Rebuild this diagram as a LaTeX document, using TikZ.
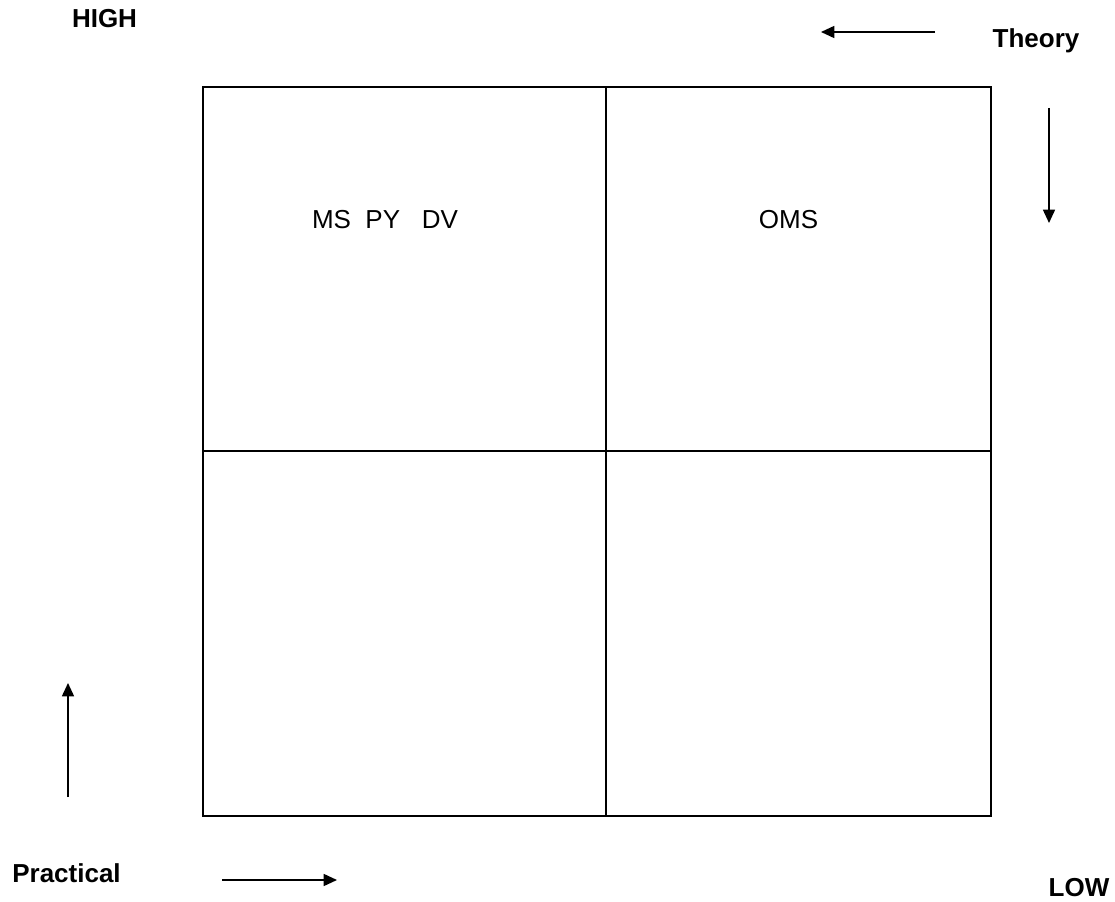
\documentclass[tikz,border=0pt]{standalone}
\usepackage{fontspec}
\setmainfont{Liberation Sans}
\usetikzlibrary{arrows.meta}
\begin{document}
\begin{tikzpicture}[x=0.75pt,y=-0.75pt,
  grid/.style={line width=1.5pt},
  axisarrow/.style={line width=1.2pt,-{Triangle[length=10pt,width=9pt]}},
  lbl/.style={font=\fontsize{19.5}{23}\selectfont\bfseries,inner sep=0pt,anchor=base},
  cell/.style={font=\fontsize{19.5}{23}\selectfont,inner sep=0pt,anchor=base}]
\useasboundingbox (0,0) rectangle (1115,902);
\draw[grid] (203,87) rectangle (991,816);
\coordinate (tm) at (606,87); \coordinate (bm) at (606,816);
\coordinate (lm) at (203,451); \coordinate (rm) at (991,451);
\draw[grid] (tm) -- (bm);
\draw[grid] (lm) -- (rm);
\node[lbl] (high) at (104.5,28) {HIGH};
\node[lbl] (theory) at (1036,48) {Theory};
\node[lbl] (practical) at (66.5,882) {Practical};
\node[lbl] (low) at (1079,896) {LOW};
\node[cell] (msp) at (385,229) {MS\ \ PY\ \ \ DV};
\node[cell] (oms) at (788.5,229) {OMS};
\coordinate (a1s) at (935,32); \coordinate (a1e) at (821,32);
\coordinate (a2s) at (1049,108); \coordinate (a2e) at (1049,223);
\coordinate (a3s) at (68,797); \coordinate (a3e) at (68,683);
\coordinate (a4s) at (222,880); \coordinate (a4e) at (337,880);
\draw[axisarrow] (a1s) -- (a1e);
\draw[axisarrow] (a2s) -- (a2e);
\draw[axisarrow] (a3s) -- (a3e);
\draw[axisarrow] (a4s) -- (a4e);
\end{tikzpicture}
\end{document}
